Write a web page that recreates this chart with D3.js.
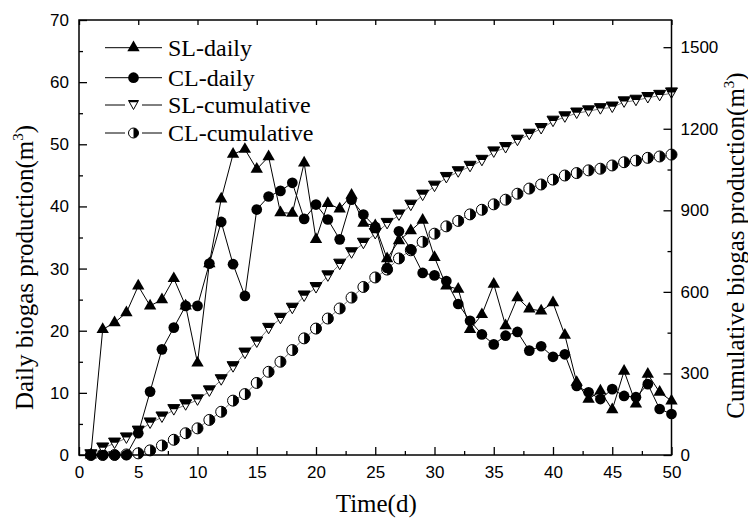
<!DOCTYPE html>
<html>
<head>
<meta charset="utf-8">
<script src="https://cdn.jsdelivr.net/npm/d3@7"></script>
<style>
  body { margin: 0; background: #fff; }
  svg { display: block; }
</style>
</head>
<body>
<svg id="chart" width="748" height="519"></svg>
<script>
// days 1..50
var days = d3.range(1, 51);

var slDaily = [0, 20.2, 21.3, 22.9, 27.2, 24.0, 25.0, 28.4, 24.0, 14.8,
  30.8, 41.2, 48.4, 49.2, 46.0, 48.0, 39.0, 38.9, 47.0, 34.7,
  40.5, 39.6, 41.8, 37.3, 36.9, 31.6, 34.5, 36.1, 37.8, 31.8,
  27.2, 26.7, 20.2, 22.6, 27.5, 20.8, 25.3, 23.5, 23.2, 24.5,
  19.3, 11.7, 9.0, 10.3, 7.3, 13.5, 8.2, 13.0, 10.1, 8.7];

var clDaily = [0, 0, 0, 0, 3.5, 10.2, 17.0, 20.5, 24.0, 24.0,
  30.8, 37.5, 30.7, 25.6, 39.5, 41.6, 42.5, 43.8, 38.0, 40.3,
  37.9, 34.7, 41.1, 38.7, 36.7, 30.1, 36.0, 33.1, 29.3, 28.9,
  28.0, 24.3, 21.6, 19.4, 17.8, 19.2, 19.8, 16.8, 17.5, 15.8,
  16.2, 11.1, 10.1, 9.0, 10.6, 9.5, 9.3, 11.4, 7.4, 6.6];

var slCum = [0, 25, 43, 62, 87, 117, 139, 166, 184, 202,
  235, 276, 324, 374, 415, 465, 502, 539, 584, 615,
  658, 701, 743, 778, 814, 851, 882, 918, 955, 988,
  1020, 1041, 1061, 1083, 1114, 1130, 1157, 1179, 1200, 1227,
  1243, 1257, 1265, 1273, 1279, 1298, 1304, 1314, 1322, 1331];

var clCum = [0, 0, 0, 2, 6, 17, 35, 56, 80, 98,
  129, 159, 200, 224, 265, 306, 343, 386, 429, 465,
  502, 539, 579, 618, 653, 682, 723, 753, 784, 814,
  841, 861, 885, 902, 922, 939, 961, 980, 995, 1013,
  1028, 1037, 1047, 1053, 1065, 1077, 1083, 1093, 1098, 1105];

var xTicks = d3.range(0, 51, 5);
var xMinor = d3.range(2.5, 50, 5);
var yLeftTicks = d3.range(0, 71, 10);
var yLeftMinor = d3.range(5, 70, 10);
var yRightTicks = d3.range(0, 1501, 300);
var yRightMinor = d3.range(150, 1600, 300);

var legendNames = ['SL-daily', 'CL-daily', 'SL-cumulative', 'CL-cumulative'];

var svg = d3.select('#chart');
var L = 79, R = 671.5, T = 20, B = 455;

var x = d3.scaleLinear().domain([0, 50]).range([L, R]);
var yL = d3.scaleLinear().domain([0, 70]).range([B, T]);
var yR = d3.scaleLinear().domain([0, 1600]).range([B, T]);

var tickFont = '"Liberation Sans", Arial, sans-serif';
var serif = '"Liberation Serif", "Times New Roman", serif';

// markers
var triUp = d3.symbol().type(d3.symbolTriangle).size(66)();
var dot = d3.symbol().type(d3.symbolCircle).size(90)();

function drawDown(g, w, h, f) {
  g.append('path')
    .attr('d', 'M' + (-w / 2) + ',' + (-h / 2) + 'L' + (w / 2) + ',' + (-h / 2) + 'L0,' + (h / 2) + 'Z')
    .attr('fill', '#fff').attr('stroke', '#000').attr('stroke-width', 1);
  if (f > 0) {
    g.append('path')
      .attr('d', 'M' + (-w / 2) + ',' + (-h / 2) + 'L' + (w / 2) + ',' + (-h / 2) +
        'L' + (w / 2 * (1 - f)) + ',' + (-h / 2 + f * h) + 'L' + (-w / 2 * (1 - f)) + ',' + (-h / 2 + f * h) + 'Z')
      .attr('fill', '#000');
  }
}
function drawHalf(g, r) {
  g.append('circle').attr('r', r).attr('fill', '#fff').attr('stroke', '#000').attr('stroke-width', 1);
  g.append('path').attr('d', 'M0,' + (-r) + 'A' + r + ',' + r + ' 0 0 1 0,' + r + 'Z').attr('fill', '#000');
}

var plot = svg.append('g');

var lineR = function(vals) {
  return d3.line().x(function(d, i) { return x(days[i]); }).y(function(d) { return yR(d); })(vals);
};
var lineL = function(vals) {
  return d3.line().x(function(d, i) { return x(days[i]); }).y(function(d) { return yL(d); })(vals);
};

// cumulative series (drawn first)
plot.append('path').attr('d', lineR(clCum)).attr('fill', 'none').attr('stroke', '#555').attr('stroke-width', 0.8);
plot.append('path').attr('d', lineR(slCum)).attr('fill', 'none').attr('stroke', '#555').attr('stroke-width', 0.8);

plot.selectAll('.clc').data(clCum).enter().append('g')
  .attr('class', 'clc')
  .attr('transform', function(d, i) { return 'translate(' + x(days[i]) + ',' + yR(d) + ')'; })
  .each(function() { drawHalf(d3.select(this), 5.5); });

plot.selectAll('.slc').data(slCum).enter().append('g')
  .attr('class', 'slc')
  .attr('transform', function(d, i) { return 'translate(' + x(days[i]) + ',' + yR(d) + ')'; })
  .each(function() { drawDown(d3.select(this), 12, 10.5, 0.45); });

// daily series
plot.append('path').attr('d', lineL(clDaily)).attr('fill', 'none').attr('stroke', '#000').attr('stroke-width', 1);
plot.append('path').attr('d', lineL(slDaily)).attr('fill', 'none').attr('stroke', '#000').attr('stroke-width', 1);

plot.selectAll('.cld').data(clDaily).enter().append('path')
  .attr('class', 'cld').attr('d', dot).attr('fill', '#000')
  .attr('transform', function(d, i) { return 'translate(' + x(days[i]) + ',' + yL(d) + ')'; });

plot.selectAll('.sld').data(slDaily).enter().append('path')
  .attr('class', 'sld').attr('d', triUp).attr('fill', '#000')
  .attr('transform', function(d, i) { return 'translate(' + x(days[i]) + ',' + yL(d) + ')'; });

// axes
function styleAxis(g) {
  g.select('.domain').remove();
  g.selectAll('line').attr('stroke', '#000').attr('stroke-width', 1.3);
  g.selectAll('text').attr('font-family', tickFont).attr('font-size', 17).attr('fill', '#000');
}

svg.append('g').attr('transform', 'translate(0,' + B + ')')
  .call(d3.axisBottom(x).tickValues(xTicks).tickSizeInner(-8).tickSizeOuter(0).tickPadding(11))
  .call(styleAxis);
svg.append('g').attr('transform', 'translate(0,' + B + ')')
  .call(d3.axisBottom(x).tickValues(xMinor).tickSizeInner(-4).tickSizeOuter(0).tickFormat(''))
  .call(styleAxis);
svg.append('g').attr('transform', 'translate(0,' + T + ')')
  .call(d3.axisTop(x).tickValues(xTicks).tickSizeInner(-5).tickSizeOuter(0).tickFormat(''))
  .call(styleAxis);

svg.append('g').attr('transform', 'translate(' + L + ',0)')
  .call(d3.axisLeft(yL).tickValues(yLeftTicks).tickSizeInner(-8).tickSizeOuter(0).tickPadding(10))
  .call(styleAxis);
svg.append('g').attr('transform', 'translate(' + L + ',0)')
  .call(d3.axisLeft(yL).tickValues(yLeftMinor).tickSizeInner(-4).tickSizeOuter(0).tickFormat(''))
  .call(styleAxis);

svg.append('g').attr('transform', 'translate(' + R + ',0)')
  .call(d3.axisRight(yR).tickValues(yRightTicks).tickSizeInner(-8).tickSizeOuter(0).tickPadding(9)
    .tickFormat(d3.format('d')))
  .call(styleAxis);
svg.append('g').attr('transform', 'translate(' + R + ',0)')
  .call(d3.axisRight(yR).tickValues(yRightMinor).tickSizeInner(-4).tickSizeOuter(0).tickFormat(''))
  .call(styleAxis);

svg.append('rect').attr('x', L).attr('y', T).attr('width', R - L).attr('height', B - T)
  .attr('fill', 'none').attr('stroke', '#000').attr('stroke-width', 1.5);

// axis titles
svg.append('text').attr('x', (L + R) / 2 + 1).attr('y', 512)
  .attr('text-anchor', 'middle').attr('font-family', serif).attr('font-size', 25)
  .text('Time(d)');

var lt = svg.append('text').attr('transform', 'translate(33,' + ((T + B) / 2 + 30) + ') rotate(-90)')
  .attr('text-anchor', 'middle').attr('font-family', serif).attr('font-size', 25);
lt.append('tspan').text('Daily biogas production(m');
lt.append('tspan').attr('font-size', 15).attr('dy', -10).text('3');
lt.append('tspan').attr('dy', 10).text(')');

var rt = svg.append('text').attr('transform', 'translate(744,' + ((T + B) / 2 + 8) + ') rotate(-90)')
  .attr('text-anchor', 'middle').attr('font-family', serif).attr('font-size', 25);
rt.append('tspan').text('Cumulative biogas production(m');
rt.append('tspan').attr('font-size', 15).attr('dy', -10).text('3');
rt.append('tspan').attr('dy', 10).text(')');

// legend
var legY = [47.7, 77.7, 105, 133];
var lg = svg.append('g');
legendNames.forEach(function(name, i) {
  var y = legY[i];
  var row = lg.append('g').attr('transform', 'translate(0,' + y + ')');
  if (i < 2) {
    row.append('line').attr('x1', 105).attr('x2', 162).attr('y1', 0).attr('y2', 0)
      .attr('stroke', '#000').attr('stroke-width', 1);
  } else {
    row.append('line').attr('x1', 105).attr('x2', 125).attr('stroke', '#000').attr('stroke-width', 1);
    row.append('line').attr('x1', 142).attr('x2', 162).attr('stroke', '#000').attr('stroke-width', 1);
  }
  var m = row.append('g').attr('transform', 'translate(133.5,0)');
  if (i === 0) m.append('path').attr('d', triUp).attr('fill', '#000');
  if (i === 1) m.append('path').attr('d', dot).attr('fill', '#000');
  if (i === 2) drawDown(m, 10, 9, 0.2);
  if (i === 3) drawHalf(m, 5);
  row.append('text').attr('x', 168).attr('y', 0).attr('dy', '0.35em')
    .attr('font-family', serif).attr('font-size', 24).text(name);
});
</script>
</body>
</html>
